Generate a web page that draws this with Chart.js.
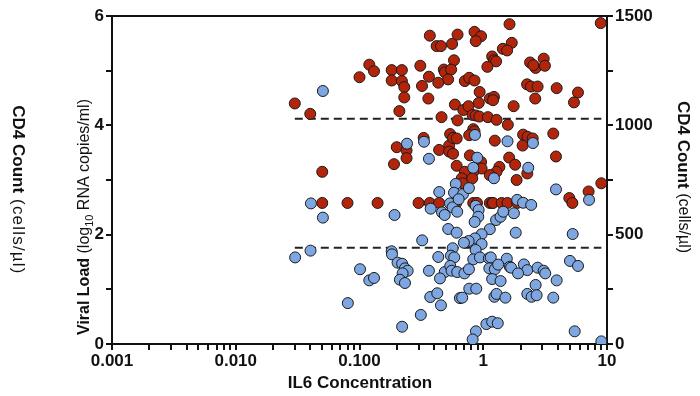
<!DOCTYPE html>
<html>
<head>
<meta charset="utf-8">
<script src="https://cdn.jsdelivr.net/npm/chart.js@4.4.1/dist/chart.umd.min.js"></script>
<style>
  html, body { margin: 0; padding: 0; background: #fff; }
  canvas { display: block; }
</style>
</head>
<body>
<canvas id="il6Chart" width="700" height="396"></canvas>
<script>
// Viral load (left axis, log10 copies/ml) vs IL6
const redIL6 = [0.37, 0.42, 0.455, 0.56, 0.62, 0.58, 0.12, 0.131, 0.10, 0.182, 0.22, 0.31, 0.48, 0.49, 0.55,
  0.182, 0.22, 0.23, 0.364, 0.52, 0.433, 0.32, 0.23, 0.36, 0.030, 0.040, 0.21, 0.59, 0.46, 0.62,
  0.33, 0.20, 0.24, 0.24, 0.19, 0.050, 0.44, 0.53, 0.54, 0.57, 0.61, 0.53, 0.57, 0.61,
  0.050, 0.080, 0.14, 0.30, 0.37, 0.44, 0.605,
  1.63, 8.9, 0.85, 0.96, 0.87, 1.70, 1.44, 1.56, 1.18, 1.22, 1.27, 1.08, 2.39, 2.65, 2.54, 3.08, 3.15,
  0.71, 0.77, 0.85, 2.26, 2.43, 2.75, 3.92, 5.83, 5.41, 2.63, 0.935, 1.13, 1.22, 1.20, 0.92, 1.76,
  0.69, 0.76, 0.82, 0.87, 0.93, 1.09, 1.28, 1.58, 0.83, 0.85, 0.77, 1.24, 2.10, 2.28, 2.51, 2.08,
  3.68, 3.87, 1.62, 1.81, 0.78, 0.96, 0.97, 0.83, 0.71, 1.35, 1.28, 1.13, 2.27, 1.86, 0.67, 0.68, 0.815,
  9.0, 7.1, 4.96, 5.25, 0.83, 0.89, 1.13, 1.18, 1.20, 1.41, 1.57, 1.88];
const redViralLoad = [5.64, 5.45, 5.45, 5.49, 5.66, 5.19, 5.11, 4.99, 4.88, 5.01, 5.01, 5.09, 5.02, 4.97, 5.02,
  4.82, 4.81, 4.70, 4.89, 4.84, 4.78, 4.72, 4.51, 4.49, 4.40, 4.21, 4.26, 4.38, 4.15, 4.09,
  3.77, 3.60, 3.54, 3.40, 3.29, 3.15, 3.55, 3.63, 3.84, 3.77, 3.76, 3.52, 3.48, 3.26,
  2.58, 2.58, 2.58, 2.58, 2.58, 2.58, 2.58,
  5.85, 5.87, 5.71, 5.63, 5.54, 5.51, 5.40, 5.37, 5.26, 5.19, 5.17, 5.07, 5.15, 5.05, 5.10, 5.22, 5.09,
  4.81, 4.87, 4.82, 4.75, 4.71, 4.71, 4.68, 4.60, 4.42, 4.49, 4.61, 4.49, 4.52, 4.46, 4.41, 4.35,
  4.28, 4.35, 4.19, 4.18, 4.16, 4.15, 4.10, 4.01, 3.93, 3.89, 3.82, 3.72, 3.83, 3.79, 3.76, 3.63,
  3.85, 3.43, 3.41, 3.28, 3.45, 3.33, 3.21, 3.15, 3.15, 3.24, 3.15, 3.09, 3.12, 3.00, 3.03, 2.94, 3.03,
  2.94, 2.79, 2.67, 2.58, 2.58, 2.58, 2.58, 2.58, 2.58, 2.58, 2.58, 2.58];

// CD4 count (right axis, cells/µl) vs IL6
const blueIL6 = [0.0506, 0.242, 0.332, 0.364, 0.0405, 0.0506, 0.192, 0.441, 0.60, 0.58, 0.376, 0.464, 0.488,
  0.538, 0.566, 0.521, 0.61, 0.321, 0.566, 0.0302, 0.0402, 0.182, 0.183, 0.433, 0.548, 0.583,
  0.203, 0.221, 0.233, 0.245, 0.223, 0.101, 0.12, 0.131, 0.212, 0.233, 0.364, 0.488, 0.541, 0.555,
  0.616, 0.447, 0.0805, 0.373, 0.425, 0.455, 0.648, 0.313, 0.221,
  0.857, 1.57, 2.52, 0.894, 0.83, 1.22, 2.31, 0.685, 0.633, 0.766, 3.87, 7.16, 1.88, 2.10, 2.44,
  0.868, 0.918, 0.911, 0.852, 0.616, 1.27, 1.38, 1.45, 1.77, 1.13, 0.97, 0.857, 0.762, 0.698, 0.97,
  1.83, 5.28, 0.868, 0.83, 0.94, 1.11, 1.15, 1.55, 0.705, 0.766, 1.12, 1.24, 1.32, 1.64, 1.68,
  2.13, 2.27, 1.91, 2.75, 3.08, 3.17, 5.02, 5.83, 1.18, 1.38, 3.92, 2.65, 0.771, 0.878, 0.676,
  1.23, 1.28, 1.51, 2.27, 2.46, 2.70, 3.68, 1.06, 1.18, 1.31, 0.873, 0.821, 5.48, 9.0];
const blueCD4 = [1157, 916, 925, 847, 643, 578, 590, 695, 732, 692, 619, 602, 590,
  643, 625, 526, 509, 474, 438, 396, 427, 424, 410, 398, 404, 396,
  372, 367, 346, 335, 323, 342, 291, 302, 294, 279, 335, 329, 357, 335,
  329, 300, 187, 215, 232, 177, 210, 133, 79,
  956, 927, 919, 852, 806, 758, 806, 685, 662, 713, 707, 659, 659, 646, 636,
  632, 613, 582, 558, 605, 567, 582, 605, 598, 525, 502, 483, 471, 463, 457,
  509, 503, 430, 387, 396, 392, 396, 390, 323, 342, 346, 342, 363, 353, 349,
  364, 338, 323, 349, 335, 323, 380, 357, 297, 288, 291, 270, 253, 253, 212,
  216, 229, 212, 229, 216, 223, 212, 91, 102, 95, 58, 21, 58, 12];

// dashed reference lines
const dashedIL6 = [0.03, 9];
const viralLoadLine = 4.12;
const cd4Line = 440;

// tick labels
const xTickLabels = ['0.001', '0.010', '0.100', '1', '10'];
const xTickValues = [0.001, 0.01, 0.1, 1, 10];
const viralTicks = [0, 2, 4, 6];
const cd4Ticks = [0, 500, 1000, 1500];

const FONT = "'Liberation Sans', Arial, Helvetica, sans-serif";
const INK = '#111';

const viralTitle = [
  { t: 'Viral Load', b: true, size: 16 },
  { t: ' (log', size: 16 },
  { t: '10', sub: true, size: 11 },
  { t: ' RNA copies/ml)', size: 16 }
];
const cd4TitleLeft = [
  { t: 'CD4 Count', b: true, size: 17 },
  { t: ' (cells/\u00b5l)', size: 17, spacing: 1.2 }
];
const cd4TitleRight = [
  { t: 'CD4 Count', b: true, size: 17 },
  { t: ' (cells/\u00b5l)', size: 16 }
];

function drawRich(ctx, parts, cx, cy, rot) {
  const fontOf = p => (p.b ? 'bold ' : '') + p.size + 'px ' + FONT;
  const setSpacing = p => { if ('letterSpacing' in ctx) ctx.letterSpacing = (p.spacing || 0) + 'px'; };
  let total = 0;
  parts.forEach(p => {
    ctx.font = fontOf(p);
    setSpacing(p);
    p.w = ctx.measureText(p.t).width;
    total += p.w;
  });
  ctx.save();
  ctx.translate(cx, cy);
  ctx.rotate(rot);
  ctx.fillStyle = INK;
  ctx.textBaseline = 'middle';
  ctx.textAlign = 'left';
  let x = -total / 2;
  parts.forEach(p => {
    ctx.font = fontOf(p);
    setSpacing(p);
    ctx.fillText(p.t, x, p.sub ? 5 : 0);
    x += p.w;
  });
  if ('letterSpacing' in ctx) ctx.letterSpacing = '0px';
  ctx.restore();
}

const titlesPlugin = {
  id: 'titles',
  afterDraw(chart) {
    const ctx = chart.ctx, a = chart.chartArea;
    ctx.save();
    ctx.strokeStyle = INK;
    ctx.lineWidth = 2;
    ctx.beginPath();
    ctx.moveTo(a.left - 1, a.top);
    ctx.lineTo(a.right + 1, a.top);
    ctx.stroke();
    ctx.restore();
    drawRich(ctx, [{ t: 'IL6 Concentration', b: true, size: 17 }], 360, 383, 0);
    drawRich(ctx, viralTitle, 85, 217, -Math.PI / 2);
    drawRich(ctx, cd4TitleLeft, 18, 190, Math.PI / 2);
    drawRich(ctx, cd4TitleRight, 683, 177, Math.PI / 2);
  }
};

const axisLine = { display: true, color: INK, width: 2 };
const tickGrid = { drawOnChartArea: false, drawTicks: true, tickLength: 6, color: INK, lineWidth: 2 };
const tickFont = { family: FONT, size: 17, weight: 'bold' };

new Chart(document.getElementById('il6Chart'), {
  type: 'scatter',
  data: {
    datasets: [
      {
        label: 'CD4 Count',
        data: blueIL6.map((x, i) => ({ x, y: blueCD4[i] })),
        yAxisID: 'y2',
        backgroundColor: '#7ea6e0',
        borderColor: '#1a1a1a',
        borderWidth: 1,
        pointRadius: 5.5
      },
      {
        label: 'Viral Load',
        data: redIL6.map((x, i) => ({ x, y: redViralLoad[i] })),
        yAxisID: 'y',
        backgroundColor: '#b3250b',
        borderColor: '#1a1a1a',
        borderWidth: 1,
        pointRadius: 5.5
      },
      {
        type: 'line',
        data: dashedIL6.map(x => ({ x, y: viralLoadLine })),
        yAxisID: 'y',
        borderColor: '#222',
        borderWidth: 2,
        borderDash: [8, 5],
        pointRadius: 0,
        fill: false
      },
      {
        type: 'line',
        data: dashedIL6.map(x => ({ x, y: cd4Line })),
        yAxisID: 'y2',
        borderColor: '#222',
        borderWidth: 2,
        borderDash: [8, 5],
        pointRadius: 0,
        fill: false
      }
    ]
  },
  options: {
    responsive: false,
    animation: false,
    devicePixelRatio: 1,
    layout: { padding: { top: 16, left: 0, right: 0, bottom: 0 } },
    plugins: { legend: { display: false }, tooltip: { enabled: false } },
    scales: {
      x: {
        type: 'logarithmic',
        min: 0.001,
        max: 10,
        border: axisLine,
        grid: tickGrid,
        afterBuildTicks: s => {
          const ticks = [];
          xTickValues.forEach((d, i) => {
            if (i === xTickValues.length - 1) { ticks.push({ value: d }); return; }
            for (let k = 1; k <= 9; k++) ticks.push({ value: +(k * d).toPrecision(3) });
          });
          s.ticks = ticks;
        },
        afterFit: s => { s.height = 52; },
        ticks: {
          autoSkip: false,
          maxRotation: 0,
          padding: 1,
          color: INK,
          font: tickFont,
          callback: v => {
            const i = xTickValues.findIndex(d => Math.abs(d - v) < d * 1e-6);
            return i >= 0 ? xTickLabels[i] : '';
          }
        }
      },
      y: {
        position: 'left',
        min: 0,
        max: 6,
        border: axisLine,
        grid: tickGrid,
        afterFit: s => { s.width = 112; },
        ticks: {
          stepSize: 1,
          padding: 2,
          color: INK,
          font: tickFont,
          callback: v => viralTicks.includes(v) ? String(v) : ''
        }
      },
      y2: {
        position: 'right',
        min: 0,
        max: 1500,
        border: axisLine,
        grid: tickGrid,
        afterFit: s => { s.width = 93; },
        ticks: {
          stepSize: 250,
          padding: 2,
          color: INK,
          font: tickFont,
          callback: v => cd4Ticks.includes(v) ? String(v) : ''
        }
      }
    }
  },
  plugins: [titlesPlugin]
});
</script>
</body>
</html>
